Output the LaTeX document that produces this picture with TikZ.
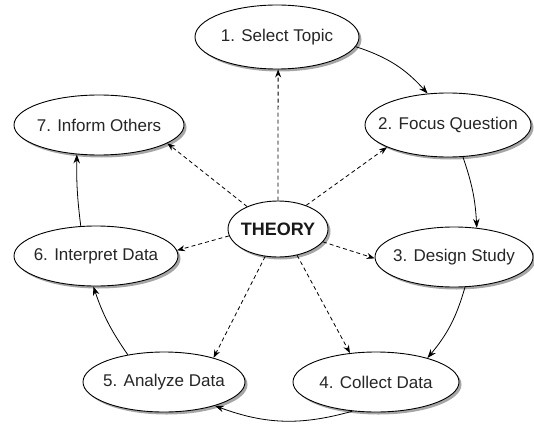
\documentclass[tikz,border=0pt]{standalone}
\usepackage{fontspec}
\setmainfont{Liberation Sans}
\usetikzlibrary{shapes.geometric,shadows,arrows.meta}
\begin{document}
\begin{tikzpicture}[x=1pt,y=-1pt,
  ell/.style={ellipse, draw=black, line width=0.9pt, fill=white, inner sep=0pt,
    drop shadow={shadow xshift=2.5pt, shadow yshift=-2.5pt, fill=black!35, opacity=1}},
  lab/.style={font=\fontsize{17}{20}\selectfont, text=black!85, inner sep=0pt},
  blab/.style={font=\fontsize{18}{21}\selectfont\bfseries, text=black!90, inner sep=0pt},
  flow/.style={-{Stealth[length=9pt,width=6.5pt]}, line width=0.8pt},
  dep/.style={-{Stealth[length=8pt,width=6pt]}, line width=0.8pt, dash pattern=on 4pt off 3pt}]
\useasboundingbox (0,0) rectangle (534,425);

\node[ell, minimum width=164pt, minimum height=64pt, label={[lab]center:1. Select Topic}] (n1) at (277,37) {};
\node[ell, minimum width=166pt, minimum height=64pt, label={[lab]center:2. Focus Question}] (n2) at (448,125) {};
\node[ell, minimum width=158pt, minimum height=60pt, label={[lab]center:3. Design Study}] (n3) at (454,257) {};
\node[ell, minimum width=166pt, minimum height=60pt, label={[lab]center:4. Collect Data}] (n4) at (376,382) {};
\node[ell, minimum width=162pt, minimum height=60pt, label={[lab]center:5. Analyze Data}] (n5) at (164,382) {};
\node[ell, minimum width=164pt, minimum height=60pt, label={[lab]center:6. Interpret Data}] (n6) at (96,256) {};
\node[ell, minimum width=170pt, minimum height=60pt, label={[lab]center:7. Inform Others}] (n7) at (99,125) {};
\node[ell, minimum width=100pt, minimum height=56pt, label={[blab]center:THEORY}] (th) at (278,229) {};

\draw[dep] (th.90) -- (n1.-88);
\draw[dep] (th.40) -- (n2.-160);
\draw[dep] (th.-16) -- (n3.181);
\draw[dep] (th.-54) -- (n4.132);
\draw[dep] (th.-115) -- (n5.26);
\draw[dep] (th.188) -- (n6.4);
\draw[dep] (th.144) -- (n7.-15);

\draw[flow] (n1.-7) to[bend left=15] (n2.123);
\draw[flow] (n2.-65) to[bend left=8] (n3.52);
\draw[flow] (n3.-70) to[bend left=12] (n4.25);
\draw[flow] (n4.-129) to[bend left=18] (n5.-25);
\draw[flow] (n5.143) to[bend left=8] (n6.-95);
\draw[flow] (n6.117) to[bend left=4] (n7.-127);
\end{tikzpicture}
\end{document}
